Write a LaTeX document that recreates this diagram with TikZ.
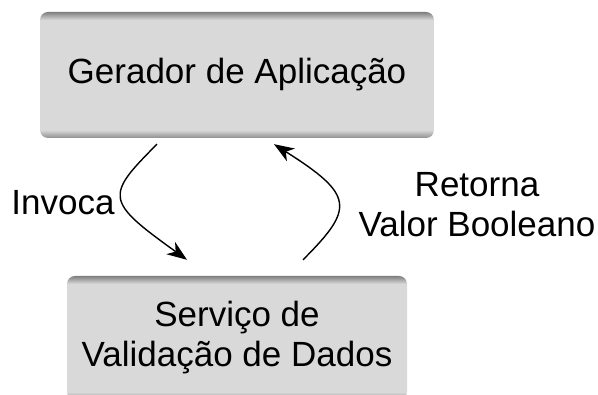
\documentclass[tikz,border=0pt]{standalone}
\usepackage{fontspec}
\setmainfont{Liberation Sans}
\usetikzlibrary{arrows.meta}
\definecolor{boxgray}{HTML}{D9D9D9}
\definecolor{bandtop}{HTML}{7F7F7F}
\definecolor{bandlow}{HTML}{8E8E8E}
\pgfdeclareverticalshading{boxshade}{100bp}{color(0bp)=(bandlow); color(25bp)=(bandlow); color(28.2bp)=(boxgray); color(71.8bp)=(boxgray); color(75bp)=(bandtop); color(100bp)=(bandtop)}
\tikzset{
	box/.style={rectangle, rounded corners=8pt, shading=boxshade, align=center, inner sep=0pt},
	lbl/.style={align=center, inner sep=0pt},
	arr/.style={-{Stealth[length=20pt,width=15pt,inset=6pt]}, line width=1.4pt},
}
\begin{document}
\begin{tikzpicture}[x=1pt,y=1pt,font=\fontsize{35}{40}\selectfont]
		\useasboundingbox (0,0) rectangle (598,395);
		\node[box, minimum width=394pt, minimum height=126pt] (gen) at (237,320) {Gerador de Aplicação};
		\node[box, minimum width=340pt, minimum height=124pt] (val) at (237,57) {Serviço de\\Validação de Dados};
		\node[lbl] (invoca) at (63,192) {Invoca};
		\node[lbl] (retorna) at (477,190) {Retorna\\Valor Booleano};
		% pontas das setas
		\coordinate (inv a) at ([xshift=-80pt,yshift=-6pt]gen.south);
		\coordinate (inv b) at ([xshift=-50pt,yshift=16pt]val.north);
		\coordinate (ret a) at ([xshift=66pt,yshift=16pt]val.north);
		\coordinate (ret b) at ([xshift=37pt,yshift=-6pt]gen.south);
		\draw[arr] (inv a) .. controls +(-52,-52) and +(-82,59) .. (inv b);
		\draw[arr] (ret a) .. controls +(51.5,51.5) and +(80.5,-51) .. (ret b);
	\end{tikzpicture}
\end{document}
